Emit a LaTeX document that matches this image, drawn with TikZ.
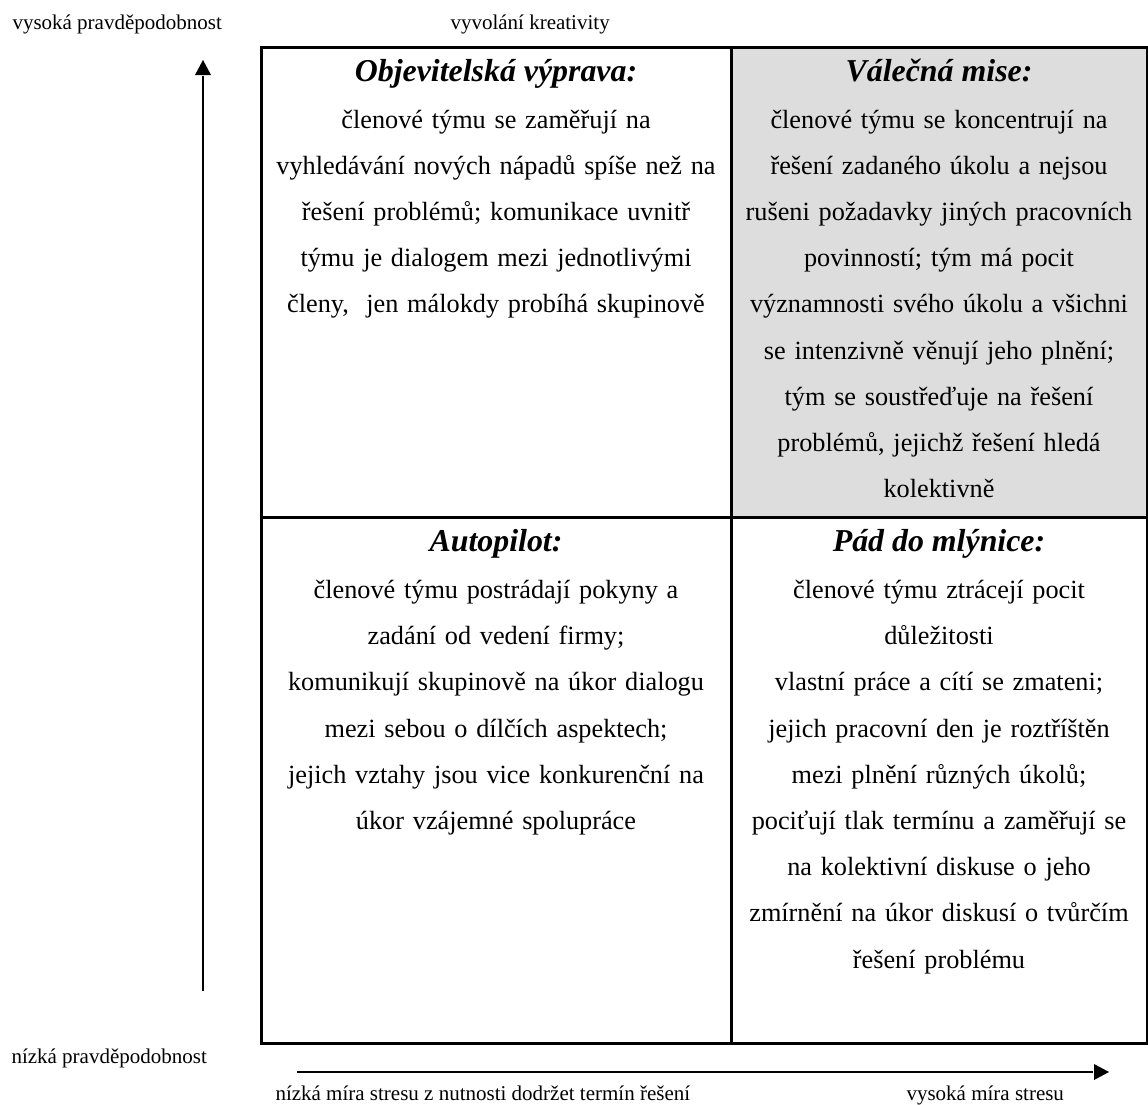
\documentclass[tikz,border=0pt]{standalone}
\usepackage{fontspec}
\setmainfont{Liberation Serif}

\tikzset{every picture/.style={line width=0.75pt}}
\tikzset{
  cellhead/.style={anchor=base, inner sep=0pt, font=\fontsize{23.9}{28}\selectfont\bfseries\itshape},
  celltext/.style={anchor=base, inner sep=0pt, text width=360pt, align=center, font=\fontsize{19.7}{34.65}\selectfont},
  axislabel/.style={inner sep=0pt, font=\fontsize{15.75}{19}\selectfont},
  gridline/.style={line width=2.25}
}

\begin{document}
\begin{tikzpicture}[x=0.75pt,y=0.75pt,yscale=-1,xscale=1]
\useasboundingbox (0,0) rectangle (1148,1104);

%Shape: Rectangle [shaded cell]
\fill [fill={rgb, 255:red, 221; green, 221; blue, 221 }] (731,47) -- (1147,47) -- (1147,517.5) -- (731,517.5) -- cycle ;
%Shape: Rectangle [table]
\draw [gridline] (261,47) -- (1147,47) -- (1147,1043) -- (261,1043) -- cycle ;
%Straight Lines [column divider]
\draw [gridline] (731,47) -- (731,1043) ;
%Straight Lines [row divider]
\draw [gridline] (261,517.5) -- (1147,517.5) ;

%Straight Lines [vertical axis]
\coordinate (ybot) at (203,991);
\coordinate (ytip) at (203,60);
\draw [line width=1.5] (ybot) -- ([yshift=12]ytip) ;
\draw [shift={(ytip)}, rotate = 90] [fill={rgb, 255:red, 0; green, 0; blue, 0 }  ][line width=0.08]  [draw opacity=0] (15,-8) -- (0,0) -- (15,8) -- cycle    ;
%Straight Lines [horizontal axis]
\coordinate (xbeg) at (297,1072);
\coordinate (xtip) at (1109,1072);
\draw [line width=1.5] (xbeg) -- ([xshift=-12]xtip) ;
\draw [shift={(xtip)}, rotate = 180] [fill={rgb, 255:red, 0; green, 0; blue, 0 }  ][line width=0.08]  [draw opacity=0] (15,-8) -- (0,0) -- (15,8) -- cycle    ;

% Text Node
\draw (496,81) node (headA) [cellhead] {Objevitelská výprava:};
% Text Node
\draw (496,128) node (textA) [celltext] {členové týmu se zaměřují na\\vyhledávání nových nápadů spíše než na\\řešení problémů; komunikace uvnitř\\týmu je dialogem mezi jednotlivými\\členy,\ \ jen málokdy probíhá skupinově};
% Text Node
\draw (939,81) node (headB) [cellhead] {Válečná mise:};
% Text Node
\draw (939,128) node (textB) [celltext] {členové týmu se koncentrují na\\řešení zadaného úkolu a nejsou\\rušeni požadavky jiných pracovních\\povinností; tým má pocit\\významnosti svého úkolu a všichni\\se intenzivně věnují jeho plnění;\\tým se soustřeďuje na řešení\\problémů, jejichž řešení hledá\\kolektivně};
% Text Node
\draw (496,551.5) node (headC) [cellhead] {Autopilot:};
% Text Node
\draw (496,598.5) node (textC) [celltext] {členové týmu postrádají pokyny a\\zadání od vedení firmy;\\komunikují skupinově na úkor dialogu\\mezi sebou o dílčích aspektech;\\jejich vztahy jsou vice konkurenční na\\úkor vzájemné spolupráce};
% Text Node
\draw (939,551.5) node (headD) [cellhead] {Pád do mlýnice:};
% Text Node
\draw (939,598.5) node (textD) [celltext] {členové týmu ztrácejí pocit\\důležitosti\\vlastní práce a cítí se zmateni;\\jejich pracovní den je roztříštěn\\mezi plnění různých úkolů;\\pociťují tlak termínu a zaměřují se\\na kolektivní diskuse o jeho\\zmírnění na úkor diskusí o tvůrčím\\řešení problému};

% Text Node
\draw (12,29) node (yhigh) [axislabel, anchor=base west] {vysoká pravděpodobnost};
% Text Node
\draw (450,29) node (ytop) [axislabel, anchor=base west] {vyvolání kreativity};
% Text Node
\draw (11,1063.5) node (ylow) [axislabel, anchor=base west] {nízká pravděpodobnost};
% Text Node
\draw (275,1100) node (xlow) [axislabel, anchor=base west] {nízká míra stresu z nutnosti dodržet termín řešení};
% Text Node
\draw (906,1100) node (xhigh) [axislabel, anchor=base west] {vysoká míra stresu};

\end{tikzpicture}
\end{document}
